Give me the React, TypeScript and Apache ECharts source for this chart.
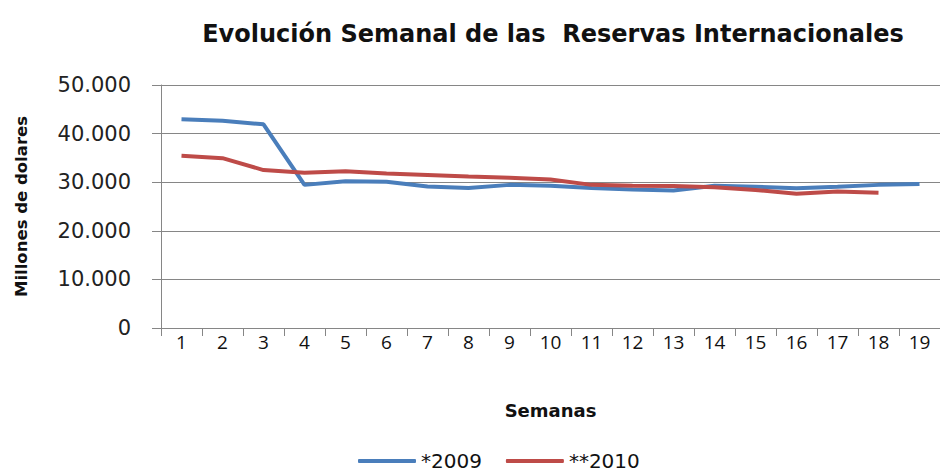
import React, { useEffect, useRef } from "react";
import * as echarts from "echarts";

const weeks = ["1","2","3","4","5","6","7","8","9","10","11","12","13","14","15","16","17","18","19"];
const series2009 = [42950, 42650, 41900, 29450, 30200, 30100, 29100, 28800, 29450, 29250, 28800, 28500, 28300, 29250, 29050, 28750, 29050, 29450, 29650];
const series2010 = [35450, 34950, 32500, 31950, 32250, 31800, 31500, 31150, 30900, 30550, 29450, 29250, 29200, 28950, 28400, 27600, 28100, 27850];
const yTicks = [0, 10000, 20000, 30000, 40000, 50000];

const fmt = (v: number) => v === 0 ? "0" : String(v).replace(/\B(?=(\d{3})+(?!\d))/g, ".");

export default function App() {
  const ref = useRef<HTMLDivElement>(null);
  useEffect(() => {
    const chart = echarts.init(ref.current!, undefined, { renderer: "svg" });
    chart.setOption({
      animation: false,
      backgroundColor: "#ffffff",
      title: {
        text: "Evolución Semanal de las  Reservas Internacionales",
        left: 548,
        textAlign: "center",
        top: 17,
        textStyle: { fontFamily: "DejaVu Sans", fontWeight: "bold", fontSize: 24, color: "#111" },
      },
      legend: {
        top: 450,
        left: 358,
        padding: 0,
        itemWidth: 58,
        itemHeight: 4,
        itemGap: 24,
        icon: "roundRect",
        textStyle: { fontFamily: "DejaVu Sans", fontSize: 20, lineHeight: 22, color: "#111", padding: [0, 0, 0, 0] },
        data: ["*2009", "**2010"],
      },
      grid: { left: 161, right: 0, top: 85, bottom: 146, containLabel: false },
      xAxis: {
        type: "category",
        data: weeks,
        boundaryGap: true,
        name: "Semanas",
        nameLocation: "middle",
        nameGap: 73,
        nameTextStyle: { fontFamily: "DejaVu Sans", fontWeight: "bold", fontSize: 18, color: "#111" },
        axisLine: { lineStyle: { color: "#868686", width: 1 } },
        axisTick: { show: true, length: 8, alignWithLabel: false, lineStyle: { color: "#868686" } },
        axisLabel: { fontFamily: "Open Sans", fontSize: 19, color: "#111", margin: 4, interval: 0 },
      },
      yAxis: {
        type: "value",
        min: 0,
        max: 50000,
        interval: 10000,
        name: "Millones de dolares",
        nameLocation: "middle",
        nameGap: 131,
        nameTextStyle: { fontFamily: "DejaVu Sans", fontWeight: "bold", fontSize: 16.5, color: "#111" },
        axisLine: { show: true, lineStyle: { color: "#868686" } },
        axisTick: { show: true, length: 9, lineStyle: { color: "#868686" } },
        splitLine: { lineStyle: { color: "#868686", width: 1 } },
        axisLabel: {
          fontFamily: "DejaVu Sans",
          fontSize: 21,
          color: "#222",
          margin: 30,
          formatter: (v: number) => (yTicks.includes(v) ? fmt(v) : ""),
        },
      },
      series: [
        {
          name: "*2009",
          type: "line",
          data: series2009,
          showSymbol: false,
          symbol: "none",
          lineStyle: { width: 4, color: "#4a7ebb" },
          itemStyle: { color: "#4a7ebb" },
        },
        {
          name: "**2010",
          type: "line",
          data: series2010,
          showSymbol: false,
          symbol: "none",
          lineStyle: { width: 4, color: "#be4b48" },
          itemStyle: { color: "#be4b48" },
        },
      ],
    });
    return () => chart.dispose();
  }, []);
  return <div ref={ref} style={{ width: 940, height: 474, position: "absolute", left: 0, top: 0 }} />;
}
